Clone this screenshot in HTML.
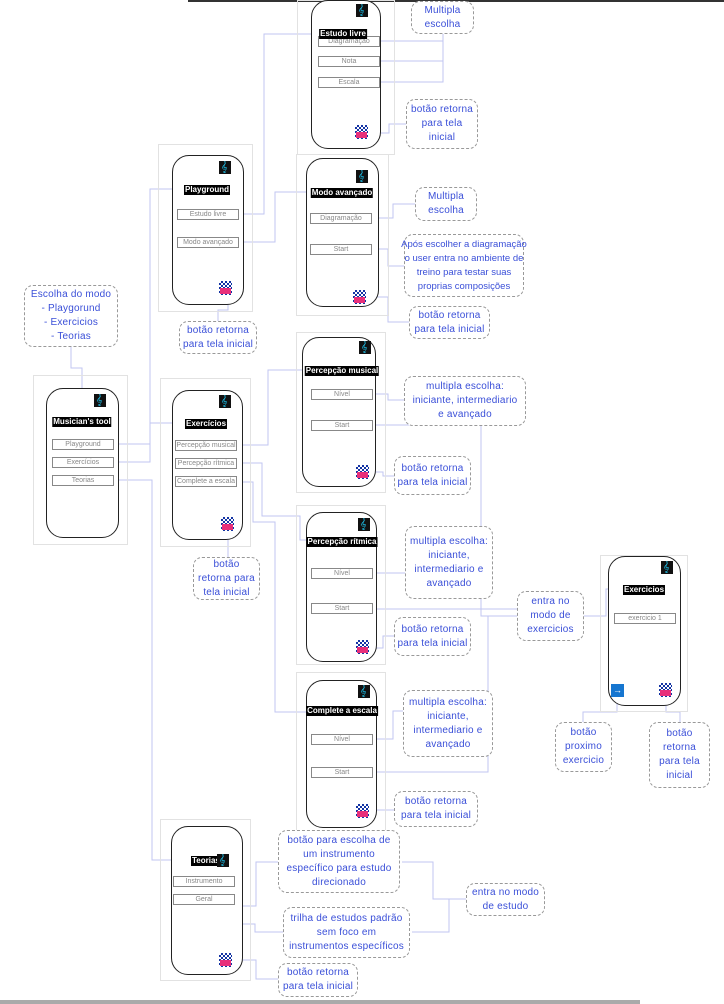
<!DOCTYPE html>
<html><head><meta charset="utf-8"><style>
body{margin:0;width:724px;height:1004px;position:relative;background:#fff;overflow:hidden;font-family:"Liberation Sans",sans-serif}
.bd{position:absolute;border:1px solid #e2e2e2;box-sizing:border-box}
.ph{position:absolute;border:1.5px solid #222;border-radius:17px;box-sizing:border-box;background:#fff}
.t{position:absolute;background:#000;color:#fff;font-weight:bold;font-size:8px;line-height:10px;padding:0 1px;white-space:nowrap;transform:translateX(-50%)}
.b{position:absolute;border:1px solid #888;box-sizing:border-box;font-size:7px;color:#888;text-align:center;line-height:9px;height:11px;white-space:nowrap;overflow:hidden;background:#fff}
.n{position:absolute;border:1px dashed #999;border-radius:9px;box-sizing:border-box;color:#3a4fd8;font-size:10px;line-height:14px;text-align:center;display:flex;align-items:center;justify-content:center;background:#fff;white-space:nowrap;letter-spacing:0.2px}
.cl{position:absolute;width:12px;height:13px;background:#111;overflow:hidden}
.cl:after{content:"𝄞";position:absolute;left:2px;top:-1px;color:#1ec6f0;font-size:11px;line-height:13px;font-family:"DejaVu Sans",sans-serif}
.st{position:absolute;width:13px;height:14px;background:repeating-conic-gradient(#1434a4 0 25%,#fff 0 50%) 0 0/4px 4px}
.st:after{content:"";position:absolute;left:1px;top:7px;width:11px;height:6px;background:#e8307a}
</style></head><body>
<div style="position:absolute;left:188px;top:0;width:536px;height:2px;background:#333"></div>
<div style="position:absolute;left:0;top:1000px;width:640px;height:4px;background:#aaa"></div>

<svg width="724" height="1004" style="position:absolute;left:0;top:0" fill="none" stroke="#c0c6f2" stroke-width="1">
<polyline points="118,444 150,444 150,189 186,189"/>
<polyline points="118,462 150,462 150,423 185,423"/>
<polyline points="118,480 152,480 152,860 190,860"/>
<polyline points="243,214 264,214 264,34 320,34"/>
<polyline points="243,242 275,242 275,192 310,192"/>
<polyline points="380,41 443,41 443,33"/><polyline points="380,61 443,61 443,41"/><polyline points="380,82 443,82 443,61"/>
<polyline points="372,133 389,133 389,124 406,124"/>
<polyline points="228,298 228,310 218,310 218,321"/>
<polyline points="372,218 393,218 393,204 415,204"/>
<polyline points="372,249 388,249 388,266 404,266"/>
<polyline points="371,297 388,297 388,322 409,322"/>
<polyline points="71,347 71,368 82,368 82,388"/>
<polyline points="242,445 268,445 268,370 310,370"/>
<polyline points="242,463 262,463 262,516 300,516 300,540 310,540"/>
<polyline points="242,482 253,482 253,522 275,522 275,712 310,712"/>
<polyline points="228,535 228,557"/>
<polyline points="375,394 388,394 388,400 404,400"/>
<polyline points="375,425 481,425 481,616 517,616"/>
<polyline points="376,609 517,609"/>
<polyline points="376,772 488,772 488,616"/>
<polyline points="376,573 405,573"/>
<polyline points="376,739 393,739 393,711 403,711"/>
<polyline points="372,472 383,472 383,476 394,476"/>
<polyline points="372,648 383,648 383,636 394,636"/>
<polyline points="372,810 394,810"/>
<polyline points="584,616 606,616 606,589 625,589"/>
<polyline points="617,702 617,712 583,712 583,722"/>
<polyline points="666,702 666,712 680,712 680,722"/>
<polyline points="236,882 236,924 255,924 255,932 283,932"/>
<polyline points="236,900 236,906 256,906 256,862 278,862"/>
<polyline points="402,862 433,862 433,899 466,899"/>
<polyline points="412,932 449,932 449,899"/>
<polyline points="236,960 256,960 256,979 278,979"/>
</svg>

<div class="bd" style="left:297px;top:0;width:98px;height:155px"></div>
<div class="bd" style="left:158px;top:144px;width:95px;height:168px"></div>
<div class="bd" style="left:296px;top:154px;width:93px;height:162px"></div>
<div class="bd" style="left:33px;top:375px;width:95px;height:170px"></div>
<div class="bd" style="left:160px;top:378px;width:91px;height:169px"></div>
<div class="bd" style="left:296px;top:332px;width:90px;height:161px"></div>
<div class="bd" style="left:296px;top:505px;width:90px;height:160px"></div>
<div class="bd" style="left:296px;top:672px;width:90px;height:160px"></div>
<div class="bd" style="left:600px;top:555px;width:88px;height:157px"></div>
<div class="bd" style="left:160px;top:819px;width:91px;height:162px"></div>

<div class="ph" style="left:311px;top:0;width:70px;height:149px"></div>
<div class="cl" style="left:356px;top:4px"></div>
<div class="b" style="left:318px;top:36px;width:62px">Diagramação</div>
<div class="t" style="left:343px;top:29px">Estudo livre</div>
<div class="b" style="left:318px;top:56px;width:62px">Nota</div>
<div class="b" style="left:318px;top:77px;width:62px">Escala</div>
<div class="st" style="left:355px;top:125px"></div>

<div class="ph" style="left:172px;top:155px;width:72px;height:150px"></div>
<div class="cl" style="left:219px;top:161px"></div>
<div class="t" style="left:207px;top:185px">Playground</div>
<div class="b" style="left:177px;top:209px;width:62px">Estudo livre</div>
<div class="b" style="left:177px;top:237px;width:62px">Modo avançado</div>
<div class="st" style="left:219px;top:281px"></div>

<div class="ph" style="left:306px;top:158px;width:73px;height:149px"></div>
<div class="cl" style="left:356px;top:170px"></div>
<div class="t" style="left:342px;top:188px">Modo avançado</div>
<div class="b" style="left:310px;top:213px;width:62px">Diagramação</div>
<div class="b" style="left:310px;top:244px;width:62px">Start</div>
<div class="st" style="left:353px;top:290px"></div>

<div class="ph" style="left:46px;top:388px;width:73px;height:150px"></div>
<div class="cl" style="left:94px;top:394px"></div>
<div class="t" style="left:82px;top:417px">Musician's tool</div>
<div class="b" style="left:52px;top:439px;width:62px">Playground</div>
<div class="b" style="left:52px;top:457px;width:62px">Exercícios</div>
<div class="b" style="left:52px;top:475px;width:62px">Teorias</div>

<div class="ph" style="left:172px;top:390px;width:71px;height:150px"></div>
<div class="cl" style="left:219px;top:395px"></div>
<div class="t" style="left:206px;top:419px">Exercícios</div>
<div class="b" style="left:175px;top:440px;width:62px">Percepção musical</div>
<div class="b" style="left:175px;top:458px;width:62px">Percepção rítmica</div>
<div class="b" style="left:175px;top:476px;width:62px">Complete a escala</div>
<div class="st" style="left:221px;top:517px"></div>

<div class="ph" style="left:302px;top:337px;width:74px;height:150px"></div>
<div class="cl" style="left:359px;top:341px"></div>
<div class="t" style="left:342px;top:366px">Percepção musical</div>
<div class="b" style="left:311px;top:389px;width:62px">Nível</div>
<div class="b" style="left:311px;top:420px;width:62px">Start</div>
<div class="st" style="left:356px;top:465px"></div>

<div class="ph" style="left:306px;top:512px;width:71px;height:150px"></div>
<div class="cl" style="left:358px;top:518px"></div>
<div class="t" style="left:342px;top:537px">Percepção rítmica</div>
<div class="b" style="left:311px;top:568px;width:62px">Nível</div>
<div class="b" style="left:311px;top:603px;width:62px">Start</div>
<div class="st" style="left:356px;top:640px"></div>

<div class="ph" style="left:306px;top:680px;width:71px;height:148px"></div>
<div class="cl" style="left:358px;top:685px"></div>
<div class="t" style="left:342px;top:706px">Complete a escala</div>
<div class="b" style="left:311px;top:734px;width:62px">Nível</div>
<div class="b" style="left:311px;top:767px;width:62px">Start</div>
<div class="st" style="left:356px;top:804px"></div>

<div class="ph" style="left:608px;top:556px;width:73px;height:150px"></div>
<div class="cl" style="left:661px;top:561px"></div>
<div class="t" style="left:644px;top:585px">Exercicios</div>
<div class="b" style="left:614px;top:613px;width:62px">exercicio 1</div>
<div style="position:absolute;left:611px;top:684px;width:13px;height:13px;background:#1676d0;color:#fff;font-size:9px;line-height:12px;text-align:center">→</div>
<div class="st" style="left:659px;top:683px"></div>

<div class="ph" style="left:171px;top:826px;width:72px;height:149px"></div>
<div class="t" style="top:856px;transform:none;left:191px">Teorias</div>
<div class="cl" style="left:217px;top:854px"></div>
<div class="b" style="left:173px;top:876px;width:62px">Instrumento</div>
<div class="b" style="left:173px;top:894px;width:62px">Geral</div>
<div class="st" style="left:219px;top:953px"></div>

<div class="n" style="left:411px;top:1px;width:63px;height:33px">Multipla<br>escolha</div>
<div class="n" style="left:406px;top:99px;width:72px;height:50px">botão retorna<br>para tela<br>inicial</div>
<div class="n" style="left:415px;top:187px;width:62px;height:34px">Multipla<br>escolha</div>
<div class="n" style="left:404px;top:234px;width:120px;height:63px;font-size:9.5px;letter-spacing:0">Após escolher a diagramação<br>o user entra no ambiente de<br>treino para testar suas<br>proprias composições</div>
<div class="n" style="left:409px;top:306px;width:81px;height:33px">botão retorna<br>para tela inicial</div>
<div class="n" style="left:24px;top:285px;width:94px;height:62px">Escolha do modo<br>- Playgorund<br>- Exercicios<br>- Teorias</div>
<div class="n" style="left:179px;top:321px;width:78px;height:33px">botão retorna<br>para tela inicial</div>
<div class="n" style="left:404px;top:376px;width:122px;height:50px">multipla escolha:<br>iniciante, intermediario<br>e avançado</div>
<div class="n" style="left:394px;top:456px;width:77px;height:39px">botão retorna<br>para tela inicial</div>
<div class="n" style="left:193px;top:557px;width:67px;height:43px">botão<br>retorna para<br>tela inicial</div>
<div class="n" style="left:405px;top:526px;width:88px;height:73px">multipla escolha:<br>iniciante,<br>intermediario e<br>avançado</div>
<div class="n" style="left:517px;top:591px;width:67px;height:50px">entra no<br>modo de<br>exercicios</div>
<div class="n" style="left:394px;top:617px;width:77px;height:39px">botão retorna<br>para tela inicial</div>
<div class="n" style="left:403px;top:690px;width:90px;height:67px">multipla escolha:<br>iniciante,<br>intermediario e<br>avançado</div>
<div class="n" style="left:555px;top:722px;width:57px;height:50px">botão<br>proximo<br>exercicio</div>
<div class="n" style="left:649px;top:722px;width:61px;height:66px">botão<br>retorna<br>para tela<br>inicial</div>
<div class="n" style="left:394px;top:791px;width:84px;height:36px">botão retorna<br>para tela inicial</div>
<div class="n" style="left:278px;top:830px;width:122px;height:63px">botão para escolha de<br>um instrumento<br>específico para estudo<br>direcionado</div>
<div class="n" style="left:466px;top:883px;width:79px;height:33px">entra no modo<br>de estudo</div>
<div class="n" style="left:283px;top:907px;width:127px;height:51px">trilha de estudos padrão<br>sem foco em<br>instrumentos específicos</div>
<div class="n" style="left:278px;top:963px;width:80px;height:34px">botão retorna<br>para tela inicial</div>
</body></html>
